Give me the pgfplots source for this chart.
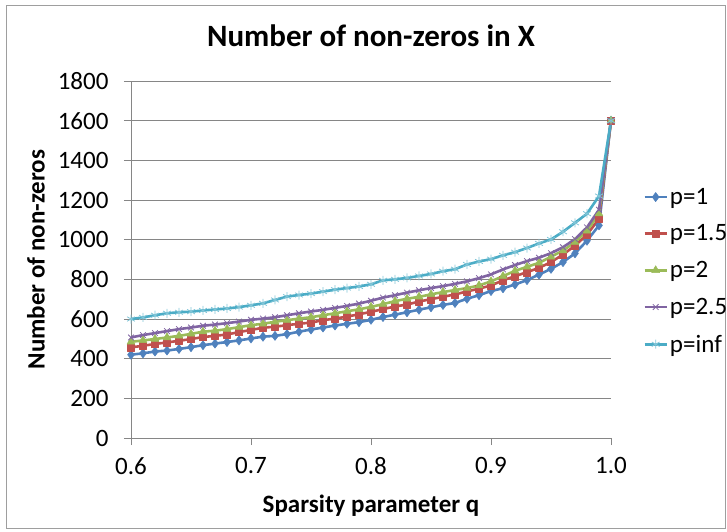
\documentclass[border=0pt]{standalone}
\usepackage{pgfplots}
\pgfplotsset{compat=1.18}
\usepackage{pgfplotstable}
\usepackage{fontspec}
\setmainfont{Carlito}
\definecolor{c1}{HTML}{4F81BD}
\definecolor{c2}{HTML}{C0504D}
\definecolor{c3}{HTML}{9BBB59}
\definecolor{c4}{HTML}{8064A2}
\definecolor{c5}{HTML}{4BACC6}
\definecolor{gridc}{HTML}{868686}
\pgfplotstableread{
q    pa    pb    pc    pd    pe
0.60 420  457  485  507  600
0.61 427  465  492  519  608
0.62 436  474  499  529  619
0.63 441  482  507  539  629
0.64 449  490  515  549  634
0.65 458  499  525  557  637
0.66 468  509  536  566  643
0.67 476  515  541  572  648
0.68 484  522  549  579  653
0.69 492  534  559  587  660
0.70 502  545  569  596  669
0.71 511  556  576  602  679
0.72 515  561  586  609  696
0.73 524  569  594  619  713
0.74 536  576  602  629  721
0.75 547  582  609  638  728
0.76 557  594  619  646  738
0.77 567  602  629  656  748
0.78 576  612  639  666  756
0.79 584  624  649  678  764
0.80 596  636  661  692  775
0.81 610  650  675  708  795
0.82 622  663  690  720  800
0.83 634  673  702  733  807
0.84 647  688  712  745  817
0.85 659  700  724  756  827
0.86 671  712  736  766  841
0.87 681  724  746  777  851
0.88 702  739  756  790  875
0.89 720  753  769  806  890
0.90 741  769  790  825  902
0.91 755  795  816  850  921
0.92 774  816  843  872  937
0.93 796  836  863  892  958
0.94 824  858  883  909  981
0.95 853  887  914  932  1001
0.96 887  925  945  962  1040
0.97 931  970  988  1003 1085
0.98 995  1025 1045 1062 1131
0.99 1072 1106 1131 1151 1220
1.00 1600 1600 1600 1600 1600
}\datatable
\begin{document}
\begin{tikzpicture}
\useasboundingbox (0pt,0pt) rectangle (727pt,531pt);
\draw[gridc!80, line width=0.8pt] (6.5pt,3pt) rectangle (725pt,526pt);
\begin{axis}[
  at={(131pt,93pt)}, anchor=south west,
  scale only axis, width=480pt, height=357pt,
  xmin=0.6, xmax=1.0, ymin=0, ymax=1800,
  xtick={0.6,0.7,0.8,0.9,1.0},
  xticklabels={0.6,0.7,0.8,0.9,1.0},
  ytick={0,200,...,1800},
  /pgf/number format/assume math mode=true,
  /pgf/number format/1000 sep={},
  axis x line*=bottom, axis y line*=left,
  axis line style={gridc, line width=0.9pt, -},
  tick align=outside, major tick length=7pt,
  tick style={gridc, line width=0.9pt},
  ymajorgrids, grid style={gridc, line width=0.9pt},
  ticklabel style={font=\fontsize{25}{30}\selectfont, black},
  yticklabel style={xshift=-12pt},
  xticklabel style={yshift=-9pt},
  title={\textbf{Number of non-zeros in X}},
  title style={font=\fontsize{31}{36}\selectfont, at={(axis description cs:0.5,1.11)}, anchor=center},
  xlabel={\textbf{Sparsity parameter q}},
  xlabel style={font=\fontsize{25}{30}\selectfont, at={(axis description cs:0.5,-0.19)}, anchor=center},
  ylabel={\textbf{Number of non-zeros}},
  ylabel style={font=\fontsize{25}{30}\selectfont, at={(axis description cs:-0.198,0.5)}, anchor=center, rotate=0},
  clip=false,
  legend style={draw=none, fill=none, inner sep=0pt, at={(axis description cs:1.067,0.468)}, anchor=west,
    font=\fontsize{25}{30}\selectfont, row sep=15pt},
  legend cell align=left,
  legend image code/.code={\draw[mark repeat=2,mark phase=2] plot coordinates {(0pt,0pt) (11pt,0pt) (22pt,0pt)};},
  every axis plot/.append style={line width=2.6pt, line join=round},
]
\addplot[c1, mark=diamond*, mark size=4.6pt, mark options={line width=0.5pt}] table[x=q,y=pa] {\datatable};
\addlegendentry{p=1}
\addplot[c2, mark=square*, mark size=3.6pt, mark options={line width=0.5pt}] table[x=q,y=pb] {\datatable};
\addlegendentry{p=1.5}
\addplot[c3, mark=triangle*, mark size=4.6pt, mark options={line width=0.5pt}] table[x=q,y=pc] {\datatable};
\addlegendentry{p=2}
\addplot[c4, mark=x, mark size=4pt, mark options={line width=0.8pt}] table[x=q,y=pd] {\datatable};
\addlegendentry{p=2.5}
\addplot[c5, mark=asterisk, mark size=4.5pt, mark options={line width=0.8pt, c5!70}] table[x=q,y=pe] {\datatable};
\addlegendentry{p=inf}
\end{axis}
\end{tikzpicture}
\end{document}
